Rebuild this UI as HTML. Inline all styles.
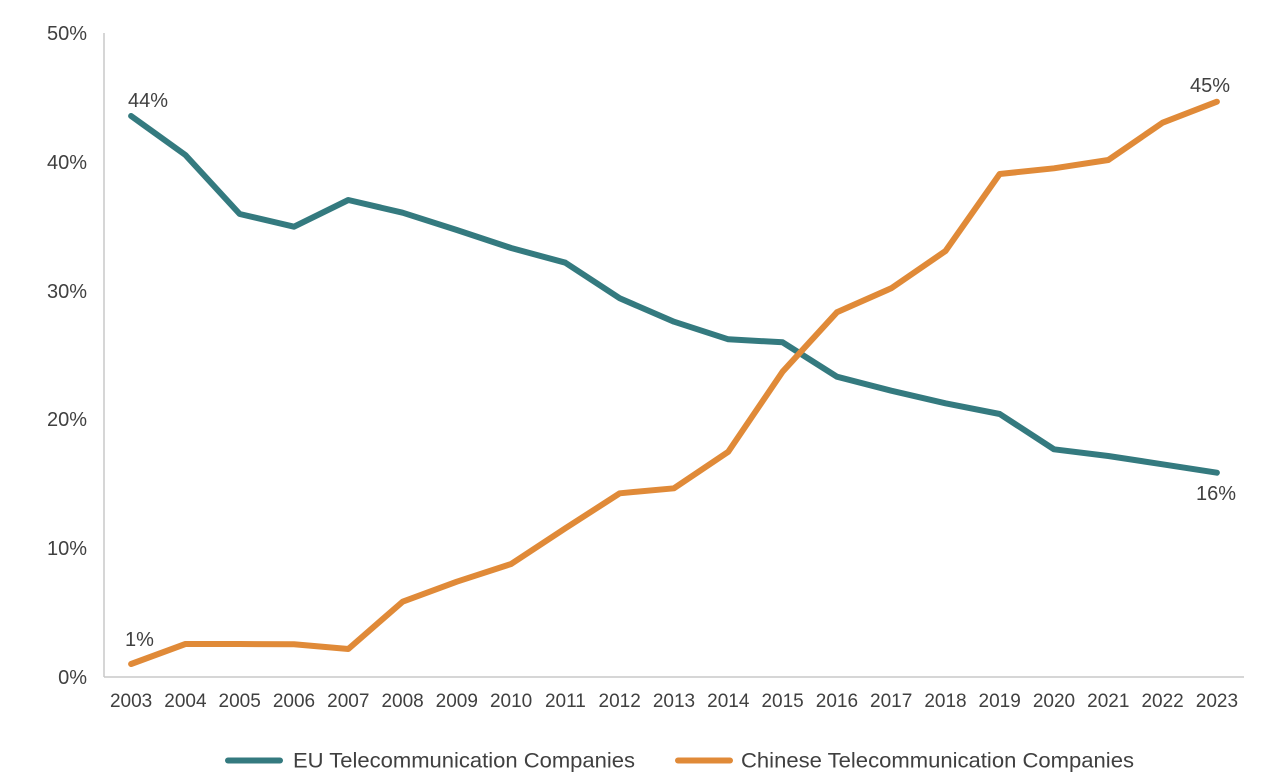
<!DOCTYPE html>
<html>
<head>
<meta charset="utf-8">
<style>
  html, body { margin: 0; padding: 0; background: #ffffff; }
  svg { display: block; }
  text { font-family: "Liberation Sans", Arial, sans-serif; fill: #404040; }
</style>
</head>
<body>
<svg width="1274" height="782" viewBox="0 0 1274 782" xmlns="http://www.w3.org/2000/svg">
  <rect width="1274" height="782" fill="#ffffff"/>
  <!-- axes -->
  <line x1="104" y1="33" x2="104" y2="677" stroke="#c9c9c9" stroke-width="1.5"/>
  <line x1="104" y1="677" x2="1244" y2="677" stroke="#c9c9c9" stroke-width="1.5"/>

  <!-- y tick labels -->
  <g font-size="20" text-anchor="end">
    <text x="87" y="40">50%</text>
    <text x="87" y="169">40%</text>
    <text x="87" y="298">30%</text>
    <text x="87" y="426">20%</text>
    <text x="87" y="555">10%</text>
    <text x="87" y="684">0%</text>
  </g>

  <!-- x tick labels -->
  <g font-size="19" text-anchor="middle">
    <text x="131.1" y="707">2003</text>
    <text x="185.4" y="707">2004</text>
    <text x="239.7" y="707">2005</text>
    <text x="294.0" y="707">2006</text>
    <text x="348.3" y="707">2007</text>
    <text x="402.6" y="707">2008</text>
    <text x="456.8" y="707">2009</text>
    <text x="511.1" y="707">2010</text>
    <text x="565.4" y="707">2011</text>
    <text x="619.7" y="707">2012</text>
    <text x="674.0" y="707">2013</text>
    <text x="728.3" y="707">2014</text>
    <text x="782.6" y="707">2015</text>
    <text x="836.9" y="707">2016</text>
    <text x="891.2" y="707">2017</text>
    <text x="945.5" y="707">2018</text>
    <text x="999.7" y="707">2019</text>
    <text x="1054.0" y="707">2020</text>
    <text x="1108.3" y="707">2021</text>
    <text x="1162.6" y="707">2022</text>
    <text x="1216.9" y="707">2023</text>
  </g>

  <!-- EU series -->
  <polyline fill="none" stroke="#347A7F" stroke-width="6" stroke-linecap="round" stroke-linejoin="round"
    points="131.1,116 185.4,155 239.7,214 294,226.7 348.3,200 402.6,212.7 456.8,230 511.1,248 565.4,262.7 619.7,298.3 674,321.7 728.3,339.3 782.6,342.3 836.9,376.7 891.2,390.7 945.5,403.3 999.7,414 1054,449.3 1108.3,456 1162.6,464.3 1216.9,472.7"/>

  <!-- China series -->
  <polyline fill="none" stroke="#E08A38" stroke-width="6" stroke-linecap="round" stroke-linejoin="round"
    points="131.1,664 185.4,644 239.7,644 294,644.3 348.3,649 402.6,601.7 456.8,581.7 511.1,564 565.4,528.3 619.7,493.3 674,488.3 728.3,451.7 782.6,371.7 836.9,312.3 891.2,288.3 945.5,251 999.7,174 1054,168.3 1108.3,160 1162.6,122.7 1216.9,101.7"/>

  <!-- data labels -->
  <g font-size="20">
    <text x="128" y="107">44%</text>
    <text x="125" y="646">1%</text>
    <text x="1190" y="92">45%</text>
    <text x="1196" y="500">16%</text>
  </g>

  <!-- legend -->
  <line x1="228" y1="760.5" x2="280" y2="760.5" stroke="#347A7F" stroke-width="6" stroke-linecap="round"/>
  <text x="293" y="767.5" font-size="21" textLength="342" lengthAdjust="spacingAndGlyphs">EU Telecommunication Companies</text>
  <line x1="678" y1="760.5" x2="730" y2="760.5" stroke="#E08A38" stroke-width="6" stroke-linecap="round"/>
  <text x="741" y="767.5" font-size="21" textLength="393" lengthAdjust="spacingAndGlyphs">Chinese Telecommunication Companies</text>
</svg>
</body>
</html>
